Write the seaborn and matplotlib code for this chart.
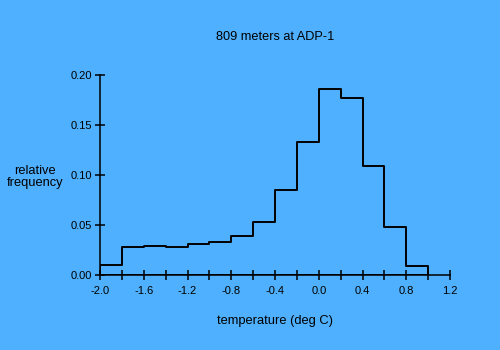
import numpy as np
import pandas as pd
import matplotlib
matplotlib.use("Agg")
import matplotlib.pyplot as plt
from matplotlib.ticker import MultipleLocator
import seaborn as sns

# Bin edges (deg C) and relative frequency per bin
bin_edges = [-2.0, -1.8, -1.6, -1.4, -1.2, -1.0, -0.8, -0.6, -0.4, -0.2,
             0.0, 0.2, 0.4, 0.6, 0.8, 1.0]
rel_freq = [0.010, 0.028, 0.029, 0.028, 0.031, 0.033, 0.039, 0.053, 0.085,
            0.133, 0.186, 0.177, 0.109, 0.048, 0.009]
x_ticks = [-2.0, -1.6, -1.2, -0.8, -0.4, 0.0, 0.4, 0.8, 1.2]
y_ticks = [0.00, 0.05, 0.10, 0.15, 0.20]

title = "809 meters at ADP-1"
x_label = "temperature (deg C)"
y_label = "relative\nfrequency"

bg = "#4EB0FF"

sns.set_theme(style="ticks")
plt.rcParams["font.family"] = ["Liberation Sans", "DejaVu Sans"]
plt.rcParams["font.size"] = 8

edges = np.array(bin_edges)
centers = (edges[:-1] + edges[1:]) / 2
df = pd.DataFrame({"temp": centers, "freq": rel_freq})

fig = plt.figure(figsize=(5, 3.5), dpi=100, facecolor=bg)
ax = fig.add_axes([0.2, 1 - 275 / 350, 0.7, 200 / 350])
ax.set_facecolor(bg)

sns.histplot(data=df, x="temp", weights="freq", bins=list(bin_edges),
             stat="count", element="step", fill=True, color="black",
             linewidth=1.4, alpha=1, ax=ax)
# keep only the outline of the step histogram
for coll in ax.collections:
    coll.set_facecolor("none")
    coll.set_edgecolor("black")
    coll.set_linewidth(1.4)

ax.set_xlim(-2.0, 1.2)
ax.set_ylim(0, 0.2)
ax.set_xticks(x_ticks)
ax.set_xticklabels([f"{v:.1f}" for v in x_ticks])
ax.xaxis.set_minor_locator(MultipleLocator(0.2))
ax.set_yticks(y_ticks)
ax.set_yticklabels([f"{v:.2f}" for v in y_ticks])

for side in ("top", "right"):
    ax.spines[side].set_visible(False)
for side in ("left", "bottom"):
    ax.spines[side].set_color("black")
    ax.spines[side].set_linewidth(1.1)

ax.tick_params(which="both", direction="inout", length=6.5, width=1.1,
               color="black", labelcolor="black", labelsize=8)
ax.tick_params(axis="x", which="both", pad=5)
ax.tick_params(axis="y", pad=2.5)

ax.set_xlabel(x_label, fontsize=9.3, color="black")
ax.xaxis.set_label_coords(0.5, -46 / 200)
ax.xaxis.label.set_va("center")
ax.set_ylabel(y_label, fontsize=9.3, color="black", rotation=0,
              ha="center", va="center", linespacing=1.0)
ax.yaxis.set_label_coords(-65 / 350, 0.49)
ax.set_title(title, fontsize=9.2, color="black", y=1 + 38 / 200,
             va="center", pad=0)

fig.savefig("out.png", dpi=100, facecolor=bg)
